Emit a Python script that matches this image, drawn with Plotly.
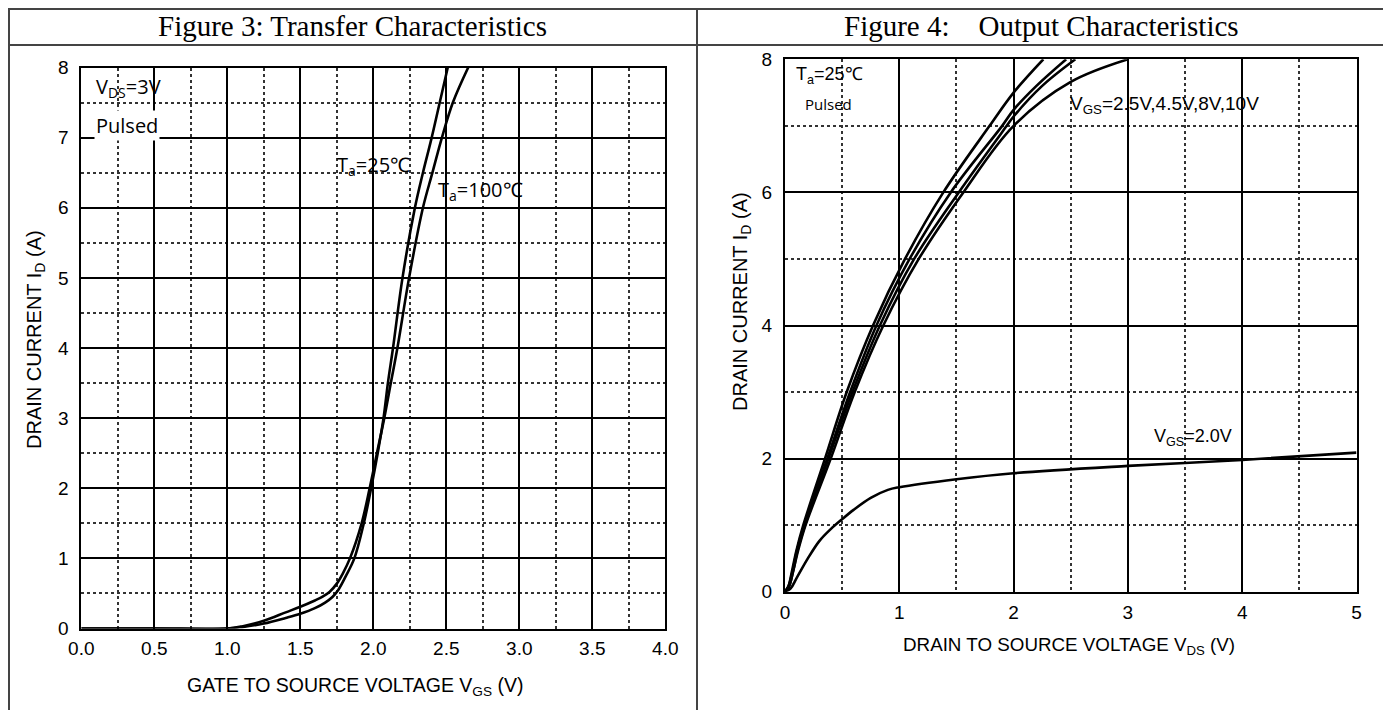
import plotly.graph_objects as go

W, H = 1391, 710
OX, OY = 8, 8  # the page body places the figure 8 px in from the top-left corner

# ---------- Figure 3: Transfer characteristics ----------
vgs_25 = [0.0, 0.5, 1.0, 1.1, 1.25, 1.4, 1.5, 1.6, 1.67, 1.72, 1.76, 1.81, 1.87, 1.935, 1.985, 2.03, 2.07, 2.10, 2.135, 2.20, 2.285, 2.34, 2.40, 2.455, 2.51]
id_25 = [0.0, 0.0, 0.0, 0.02, 0.07, 0.15, 0.21, 0.29, 0.37, 0.45, 0.55, 0.74, 1.0, 1.5, 2.0, 2.5, 3.0, 3.5, 4.0, 5.0, 6.0, 6.5, 7.0, 7.5, 8.0]
vgs_100 = [0.0, 0.5, 1.0, 1.1, 1.25, 1.4, 1.5, 1.6, 1.65, 1.70, 1.75, 1.79, 1.84, 1.92, 1.975, 2.025, 2.075, 2.12, 2.165, 2.245, 2.34, 2.405, 2.47, 2.545, 2.65]
id_100 = [0.0, 0.0, 0.0, 0.03, 0.11, 0.23, 0.31, 0.40, 0.45, 0.52, 0.64, 0.78, 1.0, 1.5, 2.0, 2.5, 3.0, 3.5, 4.0, 5.0, 6.0, 6.5, 7.0, 7.5, 8.0]

# ---------- Figure 4: Output characteristics ----------
vds_10 = [0.0, 0.03, 0.06, 0.10, 0.16, 0.35, 0.54, 0.77, 1.05, 1.385, 1.79, 2.0, 2.26]
id_10 = [0.0, 0.08, 0.3, 0.62, 1.0, 2.0, 3.0, 4.0, 5.0, 6.0, 7.0, 7.5, 8.0]
vds_8 = [0.0, 0.03, 0.065, 0.105, 0.17, 0.37, 0.57, 0.80, 1.09, 1.45, 1.90, 2.0, 2.2, 2.46]
id_8 = [0.0, 0.08, 0.3, 0.62, 1.0, 2.0, 3.0, 4.0, 5.0, 6.0, 7.0, 7.24, 7.6, 8.0]
vds_45 = [0.0, 0.035, 0.07, 0.11, 0.175, 0.38, 0.59, 0.83, 1.13, 1.52, 1.94, 2.0, 2.25, 2.54]
id_45 = [0.0, 0.08, 0.3, 0.62, 1.0, 2.0, 3.0, 4.0, 5.0, 6.0, 7.0, 7.14, 7.6, 8.0]
vds_25 = [0.0, 0.035, 0.07, 0.115, 0.18, 0.40, 0.61, 0.86, 1.17, 1.56, 2.0, 2.5, 3.0]
id_25v = [0.0, 0.08, 0.3, 0.62, 1.0, 2.0, 3.0, 4.0, 5.0, 6.0, 7.0, 7.66, 8.0]
vds_20 = [0.0, 0.05, 0.1, 0.2, 0.3, 0.4, 0.5, 0.6, 0.75, 0.9, 1.0, 1.5, 2.0, 3.0, 4.0, 5.0]
id_20 = [0.0, 0.05, 0.2, 0.5, 0.76, 0.94, 1.09, 1.23, 1.41, 1.53, 1.57, 1.69, 1.78, 1.89, 1.98, 2.09]

left_xticks = [0.0, 0.5, 1.0, 1.5, 2.0, 2.5, 3.0, 3.5, 4.0]
left_yticks = [0, 1, 2, 3, 4, 5, 6, 7, 8]
right_xticks = [0, 1, 2, 3, 4, 5]
right_yticks = [0, 2, 4, 6, 8]

CURVE = dict(color="black", width=2.6)
FONT = "Liberation Sans, Arial, sans-serif"
LBLFONT = "Open Sans, Liberation Sans, sans-serif"

def px_x(p):
    return (p - OX) / W

def px_y(p):
    return 1 - (p - OY) / H

fig = go.Figure()
for xs, ys in [(vgs_25, id_25), (vgs_100, id_100)]:
    fig.add_trace(go.Scatter(x=xs, y=ys, mode="lines", line=dict(shape="spline", smoothing=1.0, **CURVE),
                             xaxis="x", yaxis="y", showlegend=False, hoverinfo="skip"))
for xs, ys in [(vds_10, id_10), (vds_8, id_8), (vds_45, id_45), (vds_25, id_25v), (vds_20, id_20)]:
    fig.add_trace(go.Scatter(x=xs, y=ys, mode="lines", line=dict(shape="spline", smoothing=1.0, **CURVE),
                             xaxis="x2", yaxis="y2", showlegend=False, hoverinfo="skip"))

def axis_common():
    return dict(showline=True, linecolor="black", linewidth=2, mirror=True, automargin=False,
                showgrid=True, gridcolor="black", gridwidth=1.5, zeroline=False,
                ticks="", tickfont=dict(family=FONT, size=19, color="black"),
                fixedrange=True)

fig.update_layout(
    width=W, height=H, margin=dict(l=0, r=0, t=0, b=0, pad=0, autoexpand=False),
    paper_bgcolor="white", plot_bgcolor="white",
    xaxis=dict(domain=[px_x(81.3), px_x(665.3)], range=[0, 4], tickvals=left_xticks,
               ticktext=[f"{v:.1f}" for v in left_xticks], anchor="y", ticklabelstandoff=2,
               minor=dict(dtick=0.25, showgrid=True, gridcolor="#333", griddash="dot", gridwidth=1.5),
               **axis_common()),
    yaxis=dict(domain=[px_y(628.5), px_y(67.5)], range=[0, 8], tickvals=left_yticks, anchor="x",
               ticklabelstandoff=7,
               minor=dict(dtick=0.5, showgrid=True, gridcolor="#333", griddash="dot", gridwidth=1.5),
               **axis_common()),
    xaxis2=dict(domain=[px_x(785), px_x(1356.5)], range=[0, 5], tickvals=right_xticks, anchor="y2",
                ticklabelstandoff=2,
                minor=dict(dtick=0.5, showgrid=True, gridcolor="#333", griddash="dot", gridwidth=1.5),
                **axis_common()),
    yaxis2=dict(domain=[px_y(591.7), px_y(59.3)], range=[0, 8], tickvals=right_yticks, anchor="x2",
                ticklabelstandoff=7,
                minor=dict(dtick=1, showgrid=True, gridcolor="#333", griddash="dot", gridwidth=1.5),
                **axis_common()),
)

# Table frame
frame = dict(color="#444", width=2)
fig.add_shape(type="rect", xref="paper", yref="paper", x0=px_x(9), x1=px_x(1388), y0=px_y(720), y1=px_y(9), line=frame)
fig.add_shape(type="line", xref="paper", yref="paper", x0=px_x(9), x1=px_x(1388), y0=px_y(45), y1=px_y(45), line=frame)
fig.add_shape(type="line", xref="paper", yref="paper", x0=px_x(697), x1=px_x(697), y0=px_y(9), y1=px_y(720), line=frame)

anns = []
TITLEFONT = dict(family="Liberation Serif, Times New Roman, serif", size=29, color="black")
anns.append(dict(text="Figure 3: Transfer Characteristics", x=px_x(352), y=px_y(26), xref="paper", yref="paper",
                 showarrow=False, font=TITLEFONT, xanchor="center", yanchor="middle"))
anns.append(dict(text="Figure 4:\u00a0\u00a0\u00a0 Output Characteristics", x=px_x(1041), y=px_y(26), xref="paper", yref="paper",
                 showarrow=False, font=TITLEFONT, xanchor="center", yanchor="middle"))

anns.append(dict(text="DRAIN CURRENT I<sub>D</sub> (A)", x=px_x(35), y=px_y(340), xref="paper", yref="paper",
                 showarrow=False, font=dict(family=FONT, size=20, color="black"), textangle=-90,
                 xanchor="center", yanchor="middle"))
anns.append(dict(text="GATE TO SOURCE VOLTAGE V<sub>GS</sub> (V)", x=px_x(355), y=px_y(686), xref="paper", yref="paper",
                 showarrow=False, font=dict(family=FONT, size=19.5, color="black"), xanchor="center", yanchor="middle"))
anns.append(dict(text="DRAIN CURRENT I<sub>D</sub> (A)", x=px_x(741), y=px_y(302), xref="paper", yref="paper",
                 showarrow=False, font=dict(family=FONT, size=20, color="black"), textangle=-90,
                 xanchor="center", yanchor="middle"))
anns.append(dict(text="DRAIN TO SOURCE VOLTAGE V<sub>DS</sub> (V)", x=px_x(1069), y=px_y(646), xref="paper", yref="paper",
                 showarrow=False, font=dict(family=FONT, size=18.8, color="black"), xanchor="center", yanchor="middle"))

LBL = dict(family=LBLFONT, size=20, color="black")
anns.append(dict(text="V<sub>DS</sub>=3V", x=0.09, y=7.71, xref="x", yref="y", showarrow=False, font=LBL,
                 xanchor="left", yanchor="middle"))
anns.append(dict(text="Pulsed", x=0.09, y=7.18, xref="x", yref="y", showarrow=False, font=LBL,
                 xanchor="left", yanchor="middle", bgcolor="white"))
anns.append(dict(text="T<sub>a</sub>=25\u2103", x=1.74, y=6.6, xref="x", yref="y", showarrow=False, font=LBL,
                 xanchor="left", yanchor="middle"))
anns.append(dict(text="T<sub>a</sub>=100\u2103", x=2.43, y=6.25, xref="x", yref="y", showarrow=False, font=LBL,
                 xanchor="left", yanchor="middle"))
anns.append(dict(text="T<sub>a</sub>=25\u2103", x=0.08, y=7.76, xref="x2", yref="y2", showarrow=False,
                 font=dict(family=FONT, size=18, color="black"), xanchor="left", yanchor="middle"))
anns.append(dict(text="Pulsed", x=0.16, y=7.33, xref="x2", yref="y2", showarrow=False,
                 font=dict(family=LBLFONT, size=15, color="black"), xanchor="left", yanchor="middle"))
anns.append(dict(text="V<sub>GS</sub>=2.5V,4.5V,8V,10V", x=2.48, y=7.31, xref="x2", yref="y2", showarrow=False,
                 font=dict(family=FONT, size=19, color="black"), xanchor="left", yanchor="middle"))
anns.append(dict(text="V<sub>GS</sub>=2.0V", x=3.21, y=2.32, xref="x2", yref="y2", showarrow=False,
                 font=dict(family=FONT, size=18, color="black"), xanchor="left", yanchor="middle"))
fig.update_layout(annotations=anns)

fig.write_html("out.html")
